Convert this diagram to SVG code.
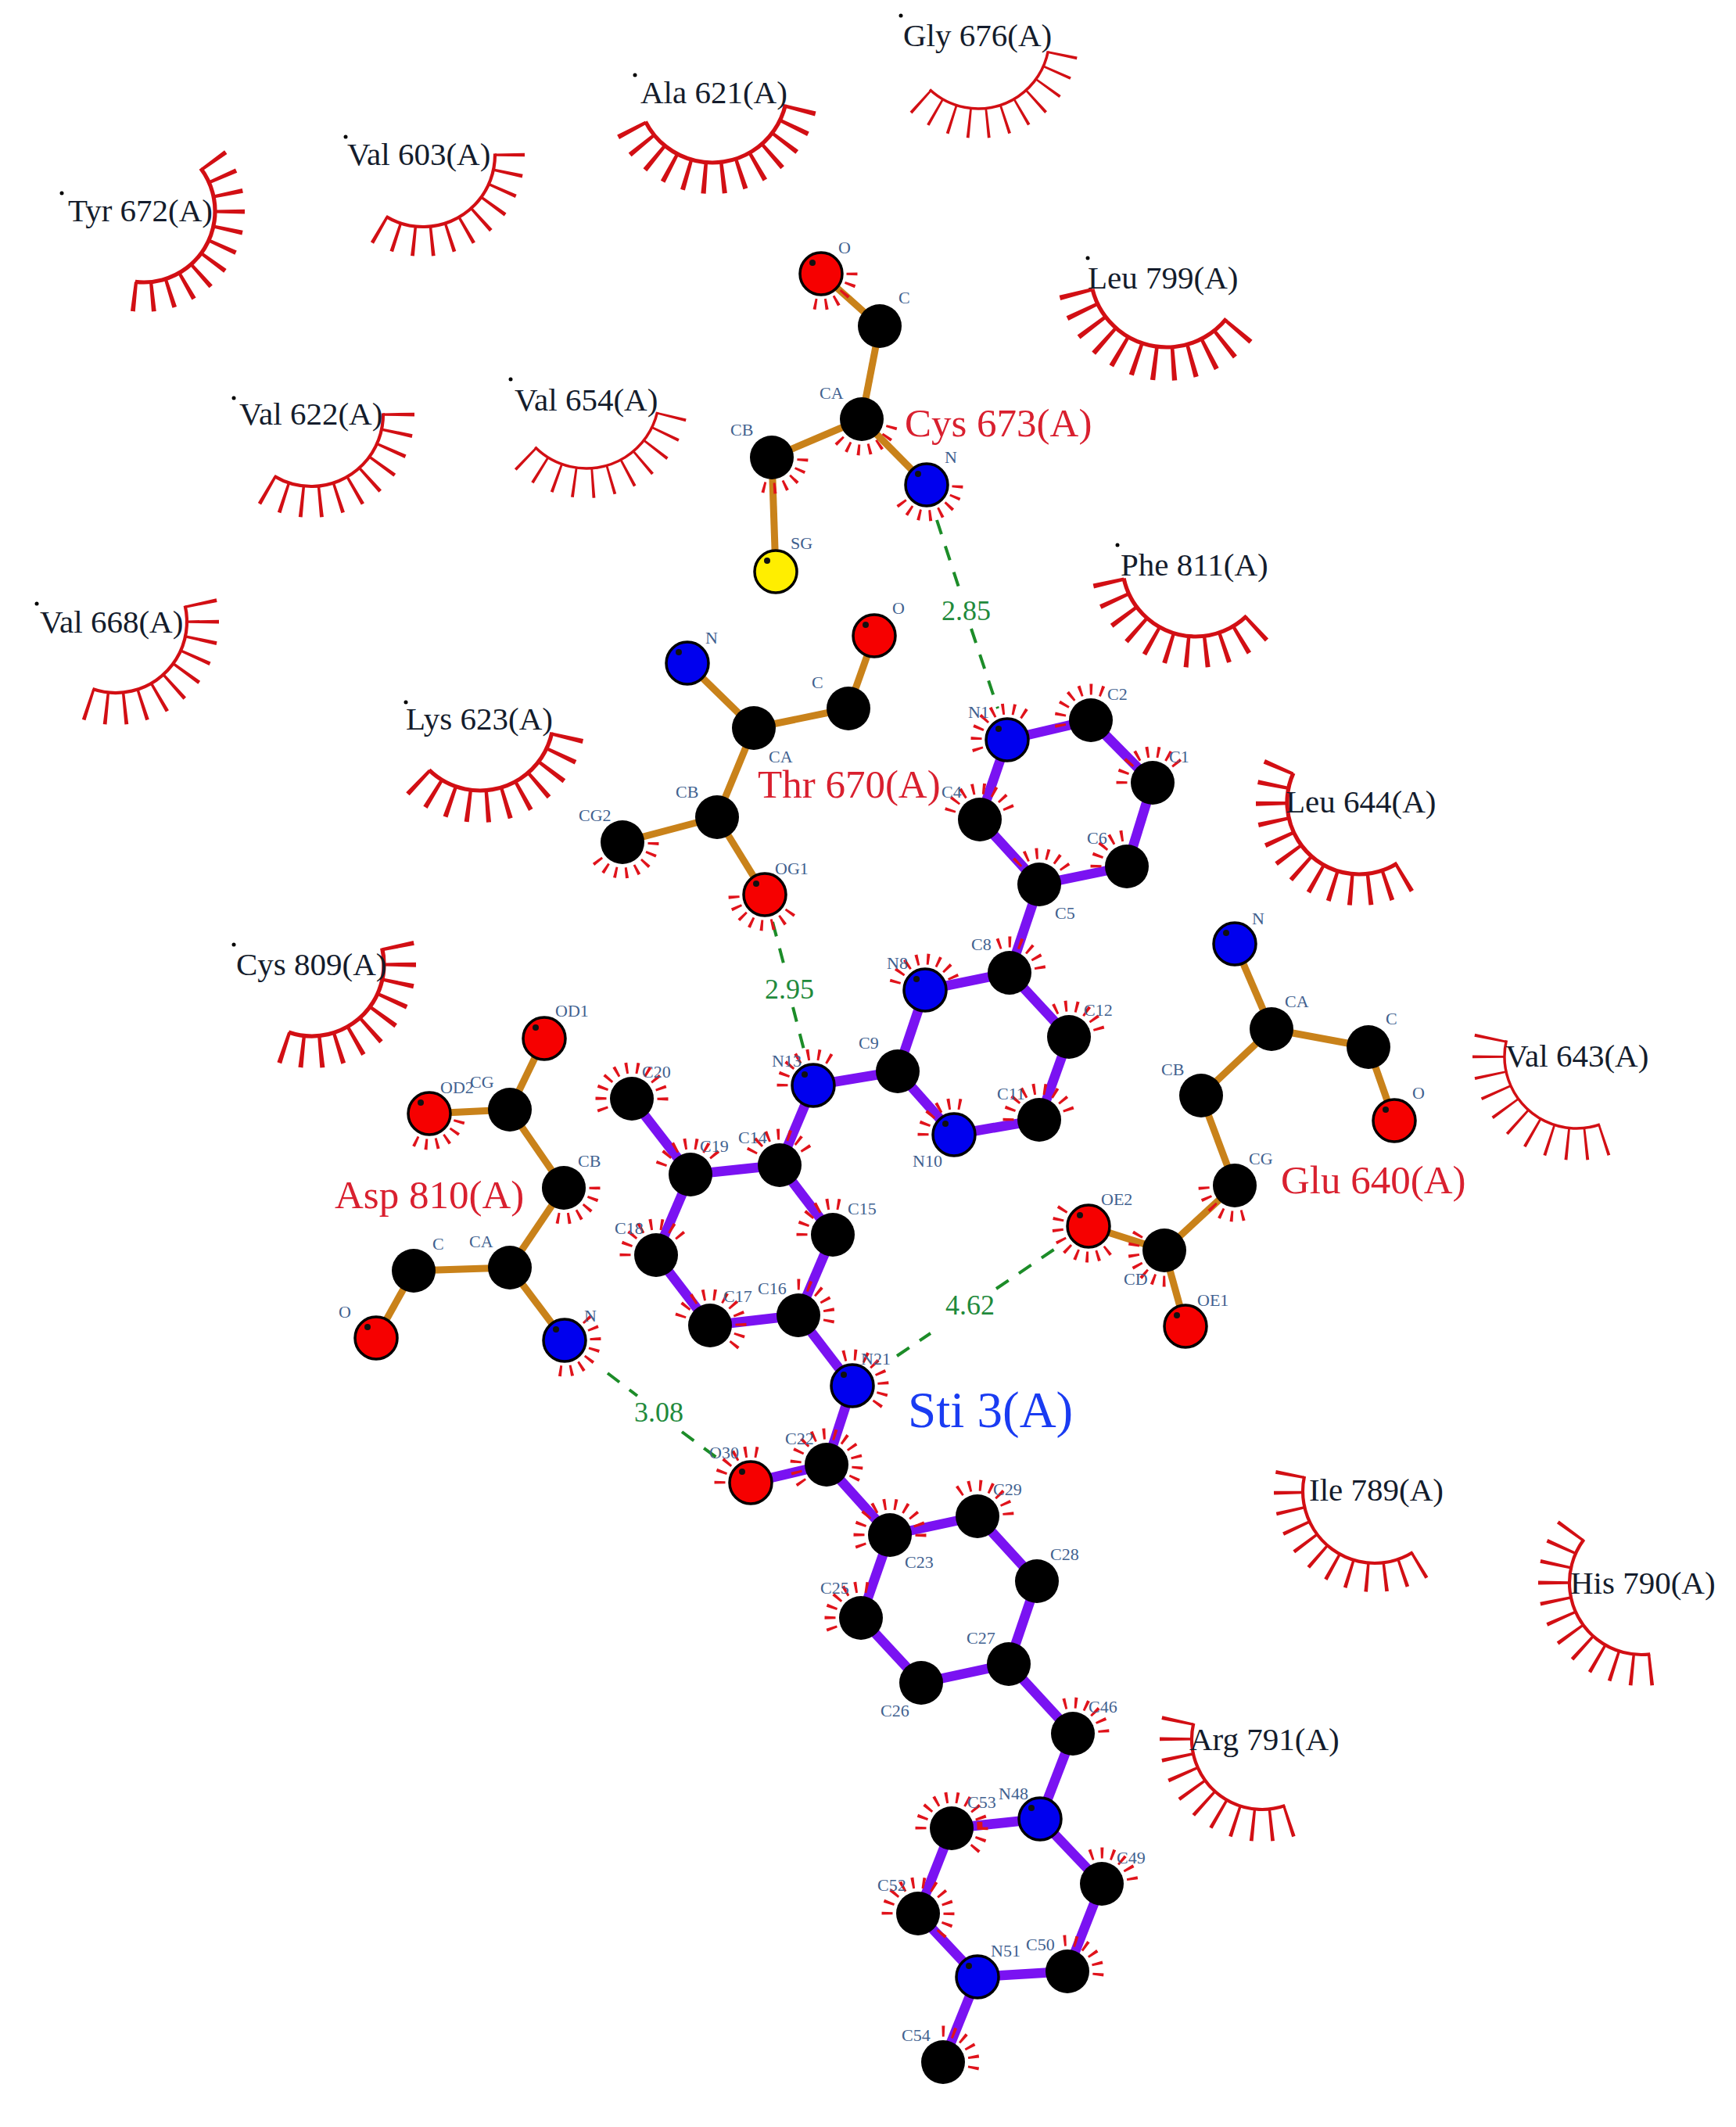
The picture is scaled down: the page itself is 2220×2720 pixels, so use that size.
<svg xmlns="http://www.w3.org/2000/svg" xmlns:xlink="http://www.w3.org/1999/xlink" width="2220" height="2720" viewBox="0 0 2220 2720">
<style>
text{font-family:"Liberation Serif","Times New Roman",serif}
.al{font-size:22px;fill:#41618f}
.rl{font-size:51px;fill:#d9202f}
.hl{font-size:41px;fill:#141c2c}
.dl{font-size:36px;fill:#1f8a3c}
.ll{font-size:65px;fill:#1a3cf2}
.pb{stroke:#c9821a;stroke-width:9;fill:none}
.lb{stroke:#7a12f2;stroke-width:12.5;fill:none}
.hb{stroke:#1c8c28;stroke-width:4;stroke-dasharray:19 16;fill:none}
.fan{fill:none;stroke:#e0131b;stroke-width:14}
.f5{stroke-dasharray:5 15 5 15 5 15 5 15 5 295}
.f6{stroke-dasharray:5 15 5 15 5 15 5 15 5 15 5 275}
.f7{stroke-dasharray:5 15 5 15 5 15 5 15 5 15 5 15 5 255}
.f8{stroke-dasharray:5 15 5 15 5 15 5 15 5 15 5 15 5 15 5 235}
.f9{stroke-dasharray:5 15 5 15 5 15 5 15 5 15 5 15 5 15 5 15 5 215}
.f11{stroke-dasharray:5 15 5 15 5 15 5 15 5 15 5 15 5 15 5 15 5 15 5 15 5 175}
.f12{stroke-dasharray:5 15 5 15 5 15 5 15 5 15 5 15 5 15 5 15 5 15 5 15 5 15 5 155}
.f13{stroke-dasharray:5 15 5 15 5 15 5 15 5 15 5 15 5 15 5 15 5 15 5 15 5 15 5 15 5 135}
.arc,.sp{fill:none;stroke:#d20f14}
.w3{stroke-width:3.5}.w4{stroke-width:4.2}.w5{stroke-width:5.2}
.a11{stroke-dasharray:122 260}.a12{stroke-dasharray:134 250}.a13{stroke-dasharray:146 240}.ax{stroke-dasharray:127 255}.ay{stroke-dasharray:140 245}
.n11i{stroke-dasharray:1.7 10.3 1.7 10.3 1.7 10.3 1.7 10.3 1.7 10.3 1.7 10.3 1.7 10.3 1.7 10.3 1.7 10.3 1.7 10.3 1.7 260}
.n11m{stroke-dasharray:2.1 9.9 2.1 9.9 2.1 9.9 2.1 9.9 2.1 9.9 2.1 9.9 2.1 9.9 2.1 9.9 2.1 9.9 2.1 9.9 2.1 260}
.n11k{stroke-dasharray:2.6 9.4 2.6 9.4 2.6 9.4 2.6 9.4 2.6 9.4 2.6 9.4 2.6 9.4 2.6 9.4 2.6 9.4 2.6 9.4 2.6 260}
.n12m{stroke-dasharray:2.1 9.9 2.1 9.9 2.1 9.9 2.1 9.9 2.1 9.9 2.1 9.9 2.1 9.9 2.1 9.9 2.1 9.9 2.1 9.9 2.1 9.9 2.1 250}
.n12k{stroke-dasharray:2.6 9.4 2.6 9.4 2.6 9.4 2.6 9.4 2.6 9.4 2.6 9.4 2.6 9.4 2.6 9.4 2.6 9.4 2.6 9.4 2.6 9.4 2.6 250}
.n13k{stroke-dasharray:2.6 9.4 2.6 9.4 2.6 9.4 2.6 9.4 2.6 9.4 2.6 9.4 2.6 9.4 2.6 9.4 2.6 9.4 2.6 9.4 2.6 9.4 2.6 9.4 2.6 240}
.n12x{stroke-dasharray:2.6 8.8 2.6 8.8 2.6 8.8 2.6 8.8 2.6 8.8 2.6 8.8 2.6 8.8 2.6 8.8 2.6 8.8 2.6 8.8 2.6 8.8 2.6 255}
.n13x{stroke-dasharray:2.6 8.9 2.6 8.9 2.6 8.9 2.6 8.9 2.6 8.9 2.6 8.9 2.6 8.9 2.6 8.9 2.6 8.9 2.6 8.9 2.6 8.9 2.6 8.9 2.6 245}
.ball{stroke:#000;stroke-width:3.5}
</style>
<defs>
<circle id="k" r="28" fill="#000"/>
<g id="rO"><circle class="ball" r="27" fill="#f60000"/><circle cx="-11" cy="-14" r="4" fill="#111"/></g>
<g id="bN"><circle class="ball" r="27" fill="#0000ee"/><circle cx="-11" cy="-14" r="4" fill="#111"/></g>
<g id="yS"><circle class="ball" r="27" fill="#ffee00"/><circle cx="-11" cy="-14" r="4" fill="#111"/></g>
</defs>
<rect width="2220" height="2720" fill="#fff"/>

<g id="connectors">
<line class="pb" x1="1050" y1="350" x2="1125" y2="417"/>
<line class="pb" x1="1125" y1="417" x2="1102" y2="536"/>
<line class="pb" x1="1102" y1="536" x2="987" y2="585"/>
<line class="pb" x1="1102" y1="536" x2="1185" y2="620"/>
<line class="pb" x1="987" y1="585" x2="992" y2="731"/>
<line class="pb" x1="879" y1="848" x2="964" y2="931"/>
<line class="pb" x1="964" y1="931" x2="1085" y2="906"/>
<line class="pb" x1="1085" y1="906" x2="1118" y2="813"/>
<line class="pb" x1="964" y1="931" x2="917" y2="1045"/>
<line class="pb" x1="917" y1="1045" x2="796" y2="1077"/>
<line class="pb" x1="917" y1="1045" x2="978" y2="1144"/>
<line class="pb" x1="696" y1="1328" x2="652" y2="1419"/>
<line class="pb" x1="549" y1="1424" x2="652" y2="1419"/>
<line class="pb" x1="652" y1="1419" x2="721" y2="1519"/>
<line class="pb" x1="721" y1="1519" x2="652" y2="1621"/>
<line class="pb" x1="652" y1="1621" x2="529" y2="1625"/>
<line class="pb" x1="529" y1="1625" x2="481" y2="1711"/>
<line class="pb" x1="652" y1="1621" x2="722" y2="1714"/>
<line class="pb" x1="1579" y1="1207" x2="1626" y2="1316"/>
<line class="pb" x1="1626" y1="1316" x2="1750" y2="1339"/>
<line class="pb" x1="1750" y1="1339" x2="1783" y2="1433"/>
<line class="pb" x1="1626" y1="1316" x2="1536" y2="1401"/>
<line class="pb" x1="1536" y1="1401" x2="1579" y2="1516"/>
<line class="pb" x1="1579" y1="1516" x2="1489" y2="1599"/>
<line class="pb" x1="1489" y1="1599" x2="1516" y2="1696"/>
<line class="pb" x1="1489" y1="1599" x2="1392" y2="1568"/>

<line class="lb" x1="1288" y1="946" x2="1395" y2="921"/>
<line class="lb" x1="1395" y1="921" x2="1474" y2="1001"/>
<line class="lb" x1="1474" y1="1001" x2="1441" y2="1108"/>
<line class="lb" x1="1441" y1="1108" x2="1329" y2="1131"/>
<line class="lb" x1="1329" y1="1131" x2="1253" y2="1048"/>
<line class="lb" x1="1253" y1="1048" x2="1288" y2="946"/>
<line class="lb" x1="1329" y1="1131" x2="1291" y2="1244"/>
<line class="lb" x1="1291" y1="1244" x2="1183" y2="1266"/>
<line class="lb" x1="1183" y1="1266" x2="1148" y2="1370"/>
<line class="lb" x1="1148" y1="1370" x2="1220" y2="1451"/>
<line class="lb" x1="1220" y1="1451" x2="1329" y2="1432"/>
<line class="lb" x1="1329" y1="1432" x2="1367" y2="1326"/>
<line class="lb" x1="1367" y1="1326" x2="1291" y2="1244"/>
<line class="lb" x1="1148" y1="1370" x2="1040" y2="1388"/>
<line class="lb" x1="1040" y1="1388" x2="997" y2="1490"/>
<line class="lb" x1="997" y1="1490" x2="883" y2="1502"/>
<line class="lb" x1="883" y1="1502" x2="808" y2="1405"/>
<line class="lb" x1="883" y1="1502" x2="839" y2="1605"/>
<line class="lb" x1="839" y1="1605" x2="908" y2="1695"/>
<line class="lb" x1="908" y1="1695" x2="1021" y2="1682"/>
<line class="lb" x1="1021" y1="1682" x2="1065" y2="1579"/>
<line class="lb" x1="1065" y1="1579" x2="997" y2="1490"/>
<line class="lb" x1="1021" y1="1682" x2="1090" y2="1772"/>
<line class="lb" x1="1090" y1="1772" x2="1057" y2="1873"/>
<line class="lb" x1="1057" y1="1873" x2="960" y2="1896"/>
<line class="lb" x1="1057" y1="1873" x2="1138" y2="1963"/>
<line class="lb" x1="1138" y1="1963" x2="1250" y2="1939"/>
<line class="lb" x1="1250" y1="1939" x2="1326" y2="2022"/>
<line class="lb" x1="1326" y1="2022" x2="1290" y2="2128"/>
<line class="lb" x1="1290" y1="2128" x2="1178" y2="2152"/>
<line class="lb" x1="1178" y1="2152" x2="1101" y2="2069"/>
<line class="lb" x1="1101" y1="2069" x2="1138" y2="1963"/>
<line class="lb" x1="1290" y1="2128" x2="1372" y2="2217"/>
<line class="lb" x1="1372" y1="2217" x2="1330" y2="2326"/>
<line class="lb" x1="1330" y1="2326" x2="1217" y2="2338"/>
<line class="lb" x1="1217" y1="2338" x2="1174" y2="2447"/>
<line class="lb" x1="1174" y1="2447" x2="1250" y2="2528"/>
<line class="lb" x1="1250" y1="2528" x2="1365" y2="2521"/>
<line class="lb" x1="1365" y1="2521" x2="1409" y2="2409"/>
<line class="lb" x1="1409" y1="2409" x2="1330" y2="2326"/>
<line class="lb" x1="1250" y1="2528" x2="1206" y2="2637"/>

<line class="hb" x1="1198" y1="665" x2="1228" y2="757"/>
<line class="hb" x1="1242" y1="804" x2="1276" y2="906"/>
<line class="hb" x1="988" y1="1179" x2="1002" y2="1232"/>
<line class="hb" x1="1014" y1="1288" x2="1030" y2="1350"/>
<line class="hb" x1="777" y1="1756" x2="815" y2="1785"/>
<line class="hb" x1="872" y1="1831" x2="926" y2="1871"/>
<line class="hb" x1="1147" y1="1734" x2="1190" y2="1705"/>
<line class="hb" x1="1274" y1="1648" x2="1352" y2="1595"/>
</g>

<g id="res-tyr672"><circle class="arc a12 w5" cx="184" cy="270" r="91" pathLength="360" transform="rotate(-37 184 270)"/><circle class="sp n12k" stroke-width="38" cx="184" cy="270" r="110" pathLength="360" transform="rotate(-37 184 270)"/><circle cx="79" cy="247" r="2.5"/><text class="hl" x="87" y="283">Tyr 672(A)</text></g>
<g id="res-val603"><circle class="arc a11 w4" cx="541" cy="198" r="92" pathLength="360" transform="rotate(-1 541 198)"/><circle class="sp n11m" stroke-width="38" cx="541" cy="198" r="111" pathLength="360" transform="rotate(-1 541 198)"/><circle cx="442" cy="175" r="2.5"/><text class="hl" x="444" y="211">Val 603(A)</text></g>
<g id="res-ala621"><circle class="arc ay w5" cx="911" cy="112" r="96" pathLength="360" transform="rotate(13 911 112)"/><circle class="sp n13x" stroke-width="40" cx="911" cy="112" r="116" pathLength="360" transform="rotate(13 911 112)"/><circle cx="812" cy="96" r="2.5"/><text class="hl" x="819" y="132">Ala 621(A)</text></g>
<g id="res-gly676"><circle class="arc a11 w3" cx="1251" cy="48" r="91" pathLength="360" transform="rotate(11 1251 48)"/><circle class="sp n11i" stroke-width="38" cx="1251" cy="48" r="110" pathLength="360" transform="rotate(11 1251 48)"/><circle cx="1152" cy="20" r="2.5"/><text class="hl" x="1155" y="59">Gly 676(A)</text></g>
<g id="res-leu799"><circle class="arc ax w5" cx="1492" cy="346" r="98" pathLength="360" transform="rotate(39 1492 346)"/><circle class="sp n12x" stroke-width="43" cx="1492" cy="346" r="119.500" pathLength="360" transform="rotate(39 1492 346)"/><circle cx="1391" cy="330" r="2.5"/><text class="hl" x="1391" y="369">Leu 799(A)</text></g>
<g id="res-phe811"><circle class="arc a11 w5" cx="1529" cy="720" r="94" pathLength="360" transform="rotate(46 1529 720)"/><circle class="sp n11k" stroke-width="40" cx="1529" cy="720" r="114" pathLength="360" transform="rotate(46 1529 720)"/><circle cx="1429" cy="697" r="2.5"/><text class="hl" x="1433" y="736">Phe 811(A)</text></g>
<g id="res-val622"><circle class="arc a11 w4" cx="398" cy="530" r="92" pathLength="360" transform="rotate(-1 398 530)"/><circle class="sp n11m" stroke-width="40" cx="398" cy="530" r="112" pathLength="360" transform="rotate(-1 398 530)"/><circle cx="299" cy="509" r="2.5"/><text class="hl" x="306" y="543">Val 622(A)</text></g>
<g id="res-val654"><circle class="arc a11 w3" cx="750" cy="506" r="93" pathLength="360" transform="rotate(13 750 506)"/><circle class="sp n11i" stroke-width="38" cx="750" cy="506" r="112" pathLength="360" transform="rotate(13 750 506)"/><circle cx="653" cy="485" r="2.5"/><text class="hl" x="658" y="525">Val 654(A)</text></g>
<g id="res-val668"><circle class="arc a11 w4" cx="148" cy="795" r="91" pathLength="360" transform="rotate(-13 148 795)"/><circle class="sp n11m" stroke-width="41" cx="148" cy="795" r="111.500" pathLength="360" transform="rotate(-13 148 795)"/><circle cx="47" cy="772" r="2.5"/><text class="hl" x="51" y="809">Val 668(A)</text></g>
<g id="res-lys623"><circle class="arc a11 w5" cx="614" cy="917" r="94" pathLength="360" transform="rotate(12 614 917)"/><circle class="sp n11k" stroke-width="41" cx="614" cy="917" r="114.500" pathLength="360" transform="rotate(12 614 917)"/><circle cx="519" cy="898" r="2.5"/><text class="hl" x="519" y="933">Lys 623(A)</text></g>
<g id="res-cys809"><circle class="arc a11 w5" cx="399" cy="1233" r="92" pathLength="360" transform="rotate(-13 399 1233)"/><circle class="sp n11k" stroke-width="41" cx="399" cy="1233" r="112.500" pathLength="360" transform="rotate(-13 399 1233)"/><circle cx="299" cy="1208" r="2.5"/><text class="hl" x="302" y="1247">Cys 809(A)</text></g>
<g id="res-leu644"><circle class="arc a13 w5" cx="1738" cy="1026" r="92" pathLength="360" transform="rotate(58 1738 1026)"/><circle class="sp n13k" stroke-width="40" cx="1738" cy="1026" r="112" pathLength="360" transform="rotate(58 1738 1026)"/><text class="hl" x="1644" y="1039">Leu 644(A)</text></g>
<g id="res-val643"><circle class="arc a11 w3" cx="2016" cy="1351" r="92" pathLength="360" transform="rotate(71 2016 1351)"/><circle class="sp n11i" stroke-width="41" cx="2016" cy="1351" r="112.500" pathLength="360" transform="rotate(71 2016 1351)"/><text class="hl" x="1925" y="1364">Val 643(A)</text></g>
<g id="res-ile789"><circle class="arc a12 w4" cx="1758" cy="1907" r="92" pathLength="360" transform="rotate(58 1758 1907)"/><circle class="sp n12m" stroke-width="37" cx="1758" cy="1907" r="110.500" pathLength="360" transform="rotate(58 1758 1907)"/><text class="hl" x="1674" y="1919">Ile 789(A)</text></g>
<g id="res-his790"><circle class="arc a12 w4" cx="2099" cy="2024" r="92" pathLength="360" transform="rotate(83 2099 2024)"/><circle class="sp n12m" stroke-width="40" cx="2099" cy="2024" r="112" pathLength="360" transform="rotate(83 2099 2024)"/><text class="hl" x="2008" y="2038">His 790(A)</text></g>
<g id="res-arg791"><circle class="arc a11 w4" cx="1614" cy="2224" r="90" pathLength="360" transform="rotate(71 1614 2224)"/><circle class="sp n11m" stroke-width="41" cx="1614" cy="2224" r="110.500" pathLength="360" transform="rotate(71 1614 2224)"/><text class="hl" x="1521" y="2238">Arg 791(A)</text></g>

<g id="cys673">
<g id="cys-o"><circle class="fan f6" cx="1050" cy="350" r="39.5" pathLength="360" transform="rotate(-2 1050 350)"/><use href="#rO" x="1050" y="350"/><text class="al" x="1072" y="324">O</text></g>
<g id="cys-c"><use href="#k" x="1125" y="417"/><text class="al" x="1149" y="388">C</text></g>
<g id="cys-ca"><circle class="fan f7" cx="1102" cy="536" r="39.5" pathLength="360" transform="rotate(13 1102 536)"/><use href="#k" x="1102" y="536"/><text class="al" x="1048" y="510">CA</text></g>
<g id="cys-cb"><circle class="fan f6" cx="987" cy="585" r="39.5" pathLength="360" transform="rotate(2 987 585)"/><use href="#k" x="987" y="585"/><text class="al" x="934" y="557">CB</text></g>
<g id="cys-n"><circle class="fan f8" cx="1185" cy="620" r="39.5" pathLength="360" transform="rotate(1 1185 620)"/><use href="#bN" x="1185" y="620"/><text class="al" x="1208" y="592">N</text></g>
<g id="cys-sg"><use href="#yS" x="992" y="731"/><text class="al" x="1011" y="702">SG</text></g>
<text class="rl" x="1157" y="558">Cys 673(A)</text>
</g>

<g id="thr670">
<g id="thr-n"><use href="#bN" x="879" y="848"/><text class="al" x="902" y="823">N</text></g>
<g id="thr-o"><use href="#rO" x="1118" y="813"/><text class="al" x="1141" y="785">O</text></g>
<g id="thr-c"><use href="#k" x="1085" y="906"/><text class="al" x="1038" y="880">C</text></g>
<g id="thr-ca"><use href="#k" x="964" y="931"/><text class="al" x="983" y="975">CA</text></g>
<g id="thr-cb"><use href="#k" x="917" y="1045"/><text class="al" x="864" y="1020">CB</text></g>
<g id="thr-cg2"><circle class="fan f8" cx="796" cy="1077" r="39.5" pathLength="360" transform="rotate(0 796 1077)"/><use href="#k" x="796" y="1077"/><text class="al" x="740" y="1050">CG2</text></g>
<g id="thr-og1"><circle class="fan f8" cx="978" cy="1144" r="39.5" pathLength="360" transform="rotate(33 978 1144)"/><use href="#rO" x="978" y="1144"/><text class="al" x="991" y="1118">OG1</text></g>
<text class="rl" x="969" y="1020">Thr 670(A)</text>
</g>

<g id="asp810">
<g id="asp-od1"><use href="#rO" x="696" y="1328"/><text class="al" x="710" y="1300">OD1</text></g>
<g id="asp-od2"><circle class="fan f6" cx="549" cy="1424" r="39.5" pathLength="360" transform="rotate(13 549 1424)"/><use href="#rO" x="549" y="1424"/><text class="al" x="563" y="1398">OD2</text></g>
<g id="asp-cg"><use href="#k" x="652" y="1419"/><text class="al" x="601" y="1391">CG</text></g>
<g id="asp-cb"><circle class="fan f6" cx="721" cy="1519" r="39.5" pathLength="360" transform="rotate(-2 721 1519)"/><use href="#k" x="721" y="1519"/><text class="al" x="739" y="1492">CB</text></g>
<g id="asp-ca"><use href="#k" x="652" y="1621"/><text class="al" x="600" y="1595">CA</text></g>
<g id="asp-c"><use href="#k" x="529" y="1625"/><text class="al" x="553" y="1598">C</text></g>
<g id="asp-o"><use href="#rO" x="481" y="1711"/><text class="al" x="433" y="1685">O</text></g>
<g id="asp-n"><circle class="fan f8" cx="722" cy="1714" r="39.5" pathLength="360" transform="rotate(-45 722 1714)"/><use href="#bN" x="722" y="1714"/><text class="al" x="747" y="1690">N</text></g>
<text class="rl" x="428" y="1545">Asp 810(A)</text>
</g>

<g id="glu640">
<g id="glu-n"><use href="#bN" x="1579" y="1207"/><text class="al" x="1601" y="1182">N</text></g>
<g id="glu-ca"><use href="#k" x="1626" y="1316"/><text class="al" x="1643" y="1288">CA</text></g>
<g id="glu-c"><use href="#k" x="1750" y="1339"/><text class="al" x="1772" y="1310">C</text></g>
<g id="glu-o"><use href="#rO" x="1783" y="1433"/><text class="al" x="1806" y="1405">O</text></g>
<g id="glu-cb"><use href="#k" x="1536" y="1401"/><text class="al" x="1485" y="1375">CB</text></g>
<g id="glu-cg"><circle class="fan f6" cx="1579" cy="1516" r="39.5" pathLength="360" transform="rotate(73 1579 1516)"/><use href="#k" x="1579" y="1516"/><text class="al" x="1597" y="1489">CG</text></g>
<g id="glu-cd"><circle class="fan f7" cx="1489" cy="1599" r="39.5" pathLength="360" transform="rotate(88 1489 1599)"/><use href="#k" x="1489" y="1599"/><text class="al" x="1437" y="1643">CD</text></g>
<g id="glu-oe2"><circle class="fan f9" cx="1392" cy="1568" r="39.5" pathLength="360" transform="rotate(50 1392 1568)"/><use href="#rO" x="1392" y="1568"/><text class="al" x="1408" y="1541">OE2</text></g>
<g id="glu-oe1"><use href="#rO" x="1516" y="1696"/><text class="al" x="1531" y="1670">OE1</text></g>
<text class="rl" x="1638" y="1526">Glu 640(A)</text>
</g>

<g id="sti3">
<g id="n1"><circle class="fan f8" cx="1288" cy="946" r="39.5" pathLength="360" transform="rotate(160 1288 946)"/><use href="#bN" x="1288" y="946"/><text class="al" x="1238" y="918">N1</text></g>
<g id="c2"><circle class="fan f7" cx="1395" cy="921" r="39.5" pathLength="360" transform="rotate(168 1395 921)"/><use href="#k" x="1395" y="921"/><text class="al" x="1416" y="895">C2</text></g>
<g id="c1"><circle class="fan f8" cx="1474" cy="1001" r="39.5" pathLength="360" transform="rotate(178 1474 1001)"/><use href="#k" x="1474" y="1001"/><text class="al" x="1495" y="975">C1</text></g>
<g id="c6"><circle class="fan f5" cx="1441" cy="1108" r="39.5" pathLength="360" transform="rotate(178 1441 1108)"/><use href="#k" x="1441" y="1108"/><text class="al" x="1390" y="1079">C6</text></g>
<g id="c5"><circle class="fan f6" cx="1329" cy="1131" r="39.5" pathLength="360" transform="rotate(223 1329 1131)"/><use href="#k" x="1329" y="1131"/><text class="al" x="1349" y="1175">C5</text></g>
<g id="c4"><circle class="fan f8" cx="1253" cy="1048" r="39.5" pathLength="360" transform="rotate(195 1253 1048)"/><use href="#k" x="1253" y="1048"/><text class="al" x="1204" y="1020">C4</text></g>
<g id="c8"><circle class="fan f6" cx="1291" cy="1244" r="39.5" pathLength="360" transform="rotate(248 1291 1244)"/><use href="#k" x="1291" y="1244"/><text class="al" x="1242" y="1215">C8</text></g>
<g id="n8"><circle class="fan f8" cx="1183" cy="1266" r="39.5" pathLength="360" transform="rotate(193 1183 1266)"/><use href="#bN" x="1183" y="1266"/><text class="al" x="1134" y="1239">N8</text></g>
<g id="c12"><circle class="fan f6" cx="1367" cy="1326" r="39.5" pathLength="360" transform="rotate(242 1367 1326)"/><use href="#k" x="1367" y="1326"/><text class="al" x="1386" y="1299">C12</text></g>
<g id="c9"><use href="#k" x="1148" y="1370"/><text class="al" x="1098" y="1341">C9</text></g>
<g id="n10"><circle class="fan f6" cx="1220" cy="1451" r="39.5" pathLength="360" transform="rotate(178 1220 1451)"/><use href="#bN" x="1220" y="1451"/><text class="al" x="1167" y="1492">N10</text></g>
<g id="c11"><circle class="fan f9" cx="1329" cy="1432" r="39.5" pathLength="360" transform="rotate(178 1329 1432)"/><use href="#k" x="1329" y="1432"/><text class="al" x="1275" y="1406">C11</text></g>
<g id="n13"><circle class="fan f7" cx="1040" cy="1388" r="39.5" pathLength="360" transform="rotate(178 1040 1388)"/><use href="#bN" x="1040" y="1388"/><text class="al" x="987" y="1364">N13</text></g>
<g id="c14"><circle class="fan f7" cx="997" cy="1490" r="39.5" pathLength="360" transform="rotate(205 997 1490)"/><use href="#k" x="997" y="1490"/><text class="al" x="944" y="1462">C14</text></g>
<g id="c19"><circle class="fan f7" cx="883" cy="1502" r="39.5" pathLength="360" transform="rotate(198 883 1502)"/><use href="#k" x="883" y="1502"/><text class="al" x="895" y="1473">C19</text></g>
<g id="c20"><circle class="fan f11" cx="808" cy="1405" r="39.5" pathLength="360" transform="rotate(158 808 1405)"/><use href="#k" x="808" y="1405"/><text class="al" x="821" y="1378">C20</text></g>
<g id="c15"><circle class="fan f6" cx="1065" cy="1579" r="39.5" pathLength="360" transform="rotate(178 1065 1579)"/><use href="#k" x="1065" y="1579"/><text class="al" x="1084" y="1553">C15</text></g>
<g id="c18"><circle class="fan f8" cx="839" cy="1605" r="39.5" pathLength="360" transform="rotate(178 839 1605)"/><use href="#k" x="839" y="1605"/><text class="al" x="786" y="1578">C18</text></g>
<g id="c17"><circle class="fan f11" cx="908" cy="1695" r="39.5" pathLength="360" transform="rotate(196 908 1695)"/><use href="#k" x="908" y="1695"/><text class="al" x="925" y="1665">C17</text></g>
<g id="c16"><circle class="fan f6" cx="1021" cy="1682" r="39.5" pathLength="360" transform="rotate(268 1021 1682)"/><use href="#k" x="1021" y="1682"/><text class="al" x="969" y="1655">C16</text></g>
<g id="n21"><circle class="fan f8" cx="1090" cy="1772" r="39.5" pathLength="360" transform="rotate(253 1090 1772)"/><use href="#bN" x="1090" y="1772"/><text class="al" x="1101" y="1745">N21</text></g>
<g id="c22"><circle class="fan f13" cx="1057" cy="1873" r="39.5" pathLength="360" transform="rotate(143 1057 1873)"/><use href="#k" x="1057" y="1873"/><text class="al" x="1004" y="1847">C22</text></g>
<g id="o30"><circle class="fan f6" cx="960" cy="1896" r="39.5" pathLength="360" transform="rotate(178 960 1896)"/><use href="#rO" x="960" y="1896"/><text class="al" x="907" y="1865">O30</text></g>
<g id="c23"><circle class="fan f11" cx="1138" cy="1963" r="39.5" pathLength="360" transform="rotate(158 1138 1963)"/><use href="#k" x="1138" y="1963"/><text class="al" x="1157" y="2005">C23</text></g>
<g id="c29"><circle class="fan f7" cx="1250" cy="1939" r="39.5" pathLength="360" transform="rotate(233 1250 1939)"/><use href="#k" x="1250" y="1939"/><text class="al" x="1270" y="1912">C29</text></g>
<g id="c28"><use href="#k" x="1326" y="2022"/><text class="al" x="1343" y="1995">C28</text></g>
<g id="c27"><use href="#k" x="1290" y="2128"/><text class="al" x="1236" y="2102">C27</text></g>
<g id="c26"><use href="#k" x="1178" y="2152"/><text class="al" x="1126" y="2195">C26</text></g>
<g id="c25"><circle class="fan f7" cx="1101" cy="2069" r="39.5" pathLength="360" transform="rotate(158 1101 2069)"/><use href="#k" x="1101" y="2069"/><text class="al" x="1049" y="2038">C25</text></g>
<g id="c46"><circle class="fan f6" cx="1372" cy="2217" r="39.5" pathLength="360" transform="rotate(253 1372 2217)"/><use href="#k" x="1372" y="2217"/><text class="al" x="1392" y="2190">C46</text></g>
<g id="n48"><use href="#bN" x="1330" y="2326"/><text class="al" x="1277" y="2301">N48</text></g>
<g id="c53"><circle class="fan f12" cx="1217" cy="2338" r="39.5" pathLength="360" transform="rotate(178 1217 2338)"/><use href="#k" x="1217" y="2338"/><text class="al" x="1237" y="2312">C53</text></g>
<g id="c52"><circle class="fan f12" cx="1174" cy="2447" r="39.5" pathLength="360" transform="rotate(178 1174 2447)"/><use href="#k" x="1174" y="2447"/><text class="al" x="1122" y="2418">C52</text></g>
<g id="n51"><use href="#bN" x="1250" y="2528"/><text class="al" x="1267" y="2502">N51</text></g>
<g id="c50"><circle class="fan f6" cx="1365" cy="2521" r="39.5" pathLength="360" transform="rotate(263 1365 2521)"/><use href="#k" x="1365" y="2521"/><text class="al" x="1312" y="2494">C50</text></g>
<g id="c49"><circle class="fan f6" cx="1409" cy="2409" r="39.5" pathLength="360" transform="rotate(248 1409 2409)"/><use href="#k" x="1409" y="2409"/><text class="al" x="1428" y="2383">C49</text></g>
<g id="c54"><circle class="fan f6" cx="1206" cy="2637" r="39.5" pathLength="360" transform="rotate(268 1206 2637)"/><use href="#k" x="1206" y="2637"/><text class="al" x="1153" y="2610">C54</text></g>
<text class="ll" x="1161" y="1825">Sti 3(A)</text>
</g>

<g id="distances">
<text class="dl" x="1204" y="793">2.85</text>
<text class="dl" x="978" y="1277">2.95</text>
<text class="dl" x="811" y="1818">3.08</text>
<text class="dl" x="1209" y="1681">4.62</text>
</g>
</svg>
